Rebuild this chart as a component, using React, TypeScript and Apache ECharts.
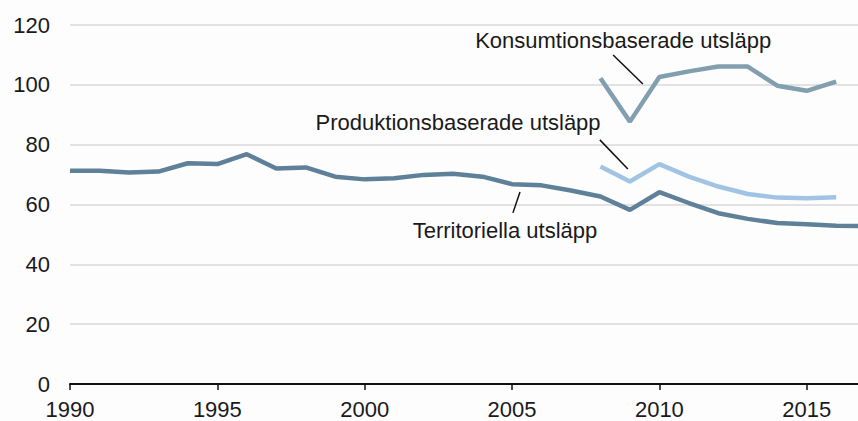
import React, { useEffect, useRef } from "react";
import * as echarts from "echarts";

const years = [1990, 1991, 1992, 1993, 1994, 1995, 1996, 1997, 1998, 1999, 2000, 2001, 2002, 2003, 2004, 2005, 2006, 2007, 2008, 2009, 2010, 2011, 2012, 2013, 2014, 2015, 2016, 2017];
const territorial = [71.3, 71.3, 70.7, 71.0, 73.8, 73.5, 76.8, 72.0, 72.4, 69.3, 68.4, 68.8, 69.9, 70.3, 69.3, 66.8, 66.4, 64.7, 62.7, 58.2, 64.1, 60.5, 57.1, 55.2, 53.8, 53.4, 52.9, 52.8];
const prodYears = [2008, 2009, 2010, 2011, 2012, 2013, 2014, 2015, 2016];
const production = [72.7, 67.7, 73.5, 69.3, 66.0, 63.5, 62.3, 62.1, 62.4];
const consumption = [102.2, 87.7, 102.6, 104.5, 106.1, 106.1, 99.7, 98.0, 101.1];
const yTicks = [0, 20, 40, 60, 80, 100, 120];

const labels = [
  { text: "Konsumtionsbaserade utsläpp", at: [2008.77, 114.9], from: [2008.43, 110.0], to: [2009.44, 100.3] },
  { text: "Produktionsbaserade utsläpp", at: [2003.17, 87.5], from: [2007.98, 81.6], to: [2008.93, 71.9] },
  { text: "Territoriella utsläpp", at: [2004.76, 51.2], from: [2005.27, 64.2], to: [2005.03, 57.2] },
];

const FONT = "'Liberation Sans', Arial, sans-serif";

export default function App() {
  const ref = useRef<HTMLDivElement>(null);
  useEffect(() => {
    if (!ref.current) return;
    const chart = echarts.init(ref.current, null, { renderer: "svg" });
    const pair = (xs: number[], ys: number[]) => xs.map((x, i) => [x, ys[i]]);
    chart.setOption({
      animation: false,
      backgroundColor: "#fdfdfd",
      grid: { left: 70, right: 0, top: 25, bottom: 37 },
      xAxis: {
        type: "value",
        min: 1990,
        max: 2016.74,
        interval: 5,
        axisLine: { show: true, lineStyle: { color: "#111", width: 2 } },
        axisTick: { show: true, length: 6, lineStyle: { color: "#111", width: 1.5 } },
        axisLabel: {
          color: "#1a1a1a",
          fontSize: 22,
          fontFamily: FONT,
          margin: 14,
          showMaxLabel: false,
          formatter: (v: number) => String(Math.round(v)),
        },
        splitLine: { show: false },
      },
      yAxis: {
        type: "value",
        min: yTicks[0],
        max: yTicks[yTicks.length - 1],
        interval: 20,
        axisLine: { show: false },
        axisTick: { show: false },
        axisLabel: { color: "#1a1a1a", fontSize: 22, fontFamily: FONT, margin: 20 },
        splitLine: { lineStyle: { color: "#d9d9d9", width: 1.5 } },
      },
      series: [
        {
          type: "line",
          data: pair(years, territorial),
          symbol: "none",
          lineStyle: { color: "#5e8199", width: 4.5 },
          z: 3,
        },
        {
          type: "line",
          data: pair(prodYears, production),
          symbol: "none",
          lineStyle: { color: "#a2c4e4", width: 4.5 },
          z: 2,
        },
        {
          type: "line",
          data: pair(prodYears, consumption),
          symbol: "none",
          lineStyle: { color: "#819fae", width: 4.5 },
          z: 2,
        },
      ],
    });
    const px = (p: number[]) => chart.convertToPixel({ gridIndex: 0 }, p) as number[];
    const graphic: any[] = [];
    labels.forEach((l) => {
      const a = px(l.at);
      const f = px(l.from);
      const t = px(l.to);
      graphic.push({
        type: "text",
        x: a[0],
        y: a[1],
        style: {
          text: l.text,
          fill: "#1a1a1a",
          font: `22px ${FONT}`,
          align: "center",
          verticalAlign: "middle",
        },
        z: 10,
      });
      graphic.push({
        type: "line",
        shape: { x1: f[0], y1: f[1], x2: t[0], y2: t[1] },
        style: { stroke: "#111", lineWidth: 1.5 },
        z: 10,
      });
    });
    chart.setOption({ graphic });
    return () => chart.dispose();
  }, []);
  return (
    <div
      ref={ref}
      style={{ position: "absolute", left: 0, top: 0, width: 858, height: 421 }}
    />
  );
}
